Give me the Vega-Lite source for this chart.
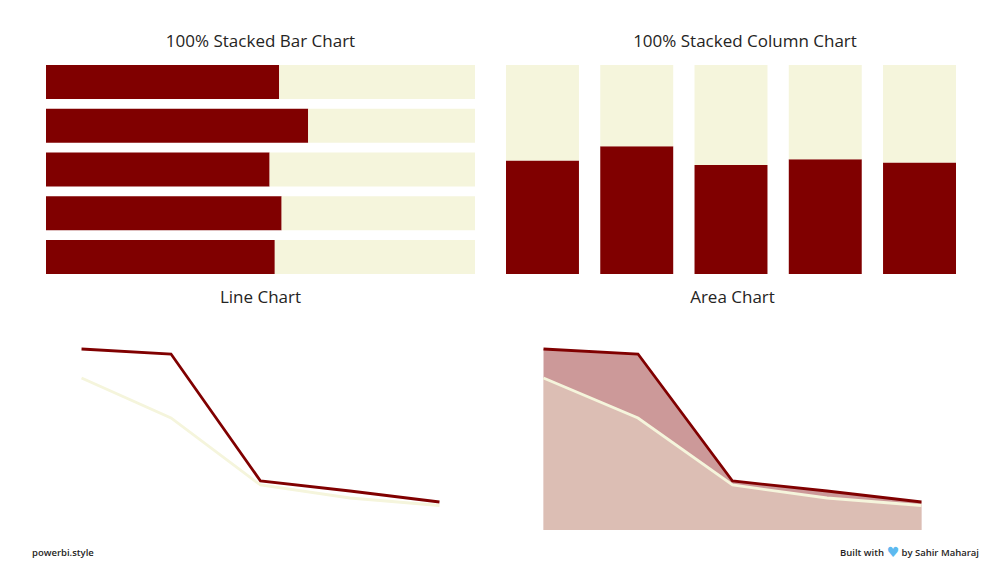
{
"$schema":"https://vega.github.io/schema/vega-lite/v6.json",
"background":"white",
"padding":{"left":32,"top":33,"right":0,"bottom":0},
"config":{"view":{"stroke":null},"title":{"font":"Open Sans","fontSize":17,"fontWeight":"normal","color":"#252423","offset":14,"anchor":"middle"},"axis":{"domain":false}},
"datasets":{
"main":[
{"cat":"A","series":"Maroon","value":181},{"cat":"A","series":"Beige","value":152},
{"cat":"B","series":"Maroon","value":176},{"cat":"B","series":"Beige","value":112},
{"cat":"C","series":"Maroon","value":49},{"cat":"C","series":"Beige","value":45},
{"cat":"D","series":"Maroon","value":39},{"cat":"D","series":"Beige","value":32},
{"cat":"E","series":"Maroon","value":28},{"cat":"E","series":"Beige","value":24.5}
],
"foot":[{"side":"left","label":"powerbi.style"},{"side":"right","label":"by Sahir Maharaj","lead":"Built with","icon":"♥"}]
},
"vconcat":[
{"hconcat":[
{"title":"100% Stacked Bar Chart","width":429,"height":209,"data":{"name":"main"},"mark":{"type":"bar"},
"encoding":{"y":{"field":"cat","type":"nominal","sort":null,"axis":null,"scale":{"paddingInner":0.22,"paddingOuter":0}},
"x":{"field":"value","type":"quantitative","stack":"normalize","axis":null},
"order":{"field":"series","sort":"descending"},
"color":{"field":"series","type":"nominal","legend":null,"scale":{"domain":["Maroon","Beige"],"range":["#800000","#F5F5DC"]}}}},
{"title":{"text":"100% Stacked Column Chart","dx":14},"width":450,"height":209,"data":{"name":"main"},"mark":{"type":"bar"},
"encoding":{"x":{"field":"cat","type":"nominal","sort":null,"axis":null,"scale":{"paddingInner":0.226,"paddingOuter":0}},
"y":{"field":"value","type":"quantitative","stack":"normalize","axis":null},
"order":{"field":"series","sort":"descending"},
"color":{"field":"series","type":"nominal","legend":null,"scale":{"domain":["Maroon","Beige"],"range":["#800000","#F5F5DC"]}}}}
],"spacing":31},
{"hconcat":[
{"title":{"text":"Line Chart","offset":18},"width":429,"height":205,"data":{"name":"main"},
"encoding":{"x":{"field":"cat","type":"nominal","sort":null,"axis":null,"scale":{"type":"point","padding":0.397}},
"y":{"field":"value","type":"quantitative","axis":null,"scale":{"domain":[0,205],"nice":false,"zero":true}}},
"layer":[
{"transform":[{"filter":"datum.series==='Beige'"}],"mark":{"type":"line","color":"#F5F5DC","strokeWidth":2.8}},
{"transform":[{"filter":"datum.series==='Maroon'"}],"mark":{"type":"line","color":"#800000","strokeWidth":2.8}}
]},
{"title":{"text":"Area Chart","offset":18},"width":378,"height":205,"data":{"name":"main"},
"encoding":{"x":{"field":"cat","type":"nominal","sort":null,"axis":null,"scale":{"type":"point","padding":0}},
"y":{"field":"value","type":"quantitative","axis":null,"stack":null,"scale":{"domain":[0,205],"nice":false,"zero":true}}},
"layer":[
{"transform":[{"filter":"datum.series==='Maroon'"}],"mark":{"type":"area","color":"#800000","opacity":0.4}},
{"transform":[{"filter":"datum.series==='Beige'"}],"mark":{"type":"area","color":"#F5F5DC","opacity":0.4}},
{"transform":[{"filter":"datum.series==='Beige'"}],"mark":{"type":"line","color":"#F5F5DC","strokeWidth":2.8}},
{"transform":[{"filter":"datum.series==='Maroon'"}],"mark":{"type":"line","color":"#800000","strokeWidth":2.8}}
]}
],"spacing":62.5},
{"width":933,"height":20,"data":{"name":"foot"},
"encoding":{"x":{"field":"side","type":"nominal","axis":null,"scale":{"type":"point","padding":0,"domain":["left","right"]}},"y":{"value":8}},
"layer":[
{"transform":[{"filter":"datum.side==='left'"}],"mark":{"type":"text","align":"left","dx":-14,"font":"Open Sans","fontSize":9.5,"fontWeight":600,"color":"#252423"},"encoding":{"text":{"field":"label"}}},
{"transform":[{"filter":"datum.side==='right'"}],"mark":{"type":"text","align":"right","font":"Open Sans","fontSize":9.5,"fontWeight":600,"color":"#252423"},"encoding":{"text":{"field":"label"}}},
{"transform":[{"filter":"datum.side==='right'"}],"mark":{"type":"text","align":"right","dx":-95,"font":"Open Sans","fontSize":9.5,"fontWeight":600,"color":"#252423"},"encoding":{"text":{"field":"lead"}}},
{"transform":[{"filter":"datum.side==='right'"}],"mark":{"type":"text","align":"center","dx":-86,"font":"DejaVu Sans","fontSize":14,"color":"#5DB9EF"},"encoding":{"text":{"field":"icon"}}}
]}
],
"spacing":15
}
